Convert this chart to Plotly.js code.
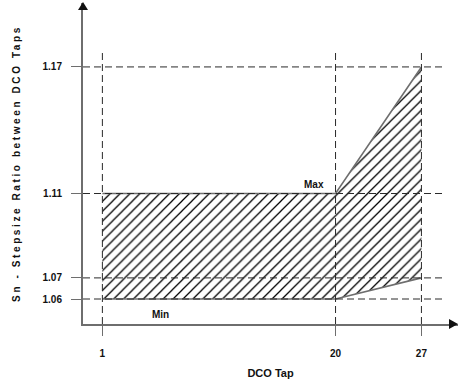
<!DOCTYPE html>
<html>
<head>
<meta charset="utf-8">
<script src="https://cdn.plot.ly/plotly-3.0.1.min.js"></script>
<style>
  html, body { margin: 0; padding: 0; background: #fff; }
  #chart { width: 459px; height: 379px; }
  .ytitle { letter-spacing: 2.6px; }
</style>
</head>
<body>
<div id="chart"></div>
<script>
// ---- data ----
const dcoTap = [1, 20, 27];
const maxRatio = [1.11, 1.11, 1.17];
const minRatio = [1.06, 1.06, 1.07];
const xTicks = [1, 20, 27];
const yTicks = [1.06, 1.07, 1.11, 1.17];
const xTickLabels = ['1', '20', '27'];
const yTickLabels = ['1.06', '1.07', '1.11', '1.17'];

const axisColor = '#6e6e6e';
const gridColor = '#2a2a2a';
const txtColor = '#111';
const fam = '"Liberation Sans", Arial, sans-serif';
const boldFont = (s) => ({ family: fam, size: s, color: txtColor, weight: 'bold' });

const traces = [
  { x: dcoTap, y: minRatio, type: 'scatter', mode: 'lines', name: 'Min',
    line: { color: axisColor, width: 1.6 }, hoverinfo: 'skip', showlegend: false },
  { x: dcoTap, y: maxRatio, type: 'scatter', mode: 'lines', name: 'Max',
    fill: 'tonexty', fillcolor: 'rgba(0,0,0,0)',
    fillpattern: { shape: '/', size: 7, solidity: 0.18, fgcolor: '#000', bgcolor: 'white' },
    line: { color: axisColor, width: 1.6 }, hoverinfo: 'skip', showlegend: false }
];

const shapes = [];
// dashed guide lines at each tick value
xTicks.forEach(v => shapes.push({ type: 'line', xref: 'x', yref: 'paper', x0: v, x1: v, y0: 0, y1: 0.847,
  line: { color: gridColor, width: 1, dash: '7px,4px' }, layer: 'above' }));
yTicks.forEach(v => shapes.push({ type: 'line', xref: 'paper', yref: 'y', x0: 0, x1: 0.968, y0: v, y1: v,
  line: { color: gridColor, width: 1, dash: '7px,4px' }, layer: 'above' }));
// axis arrowheads
shapes.push({ type: 'path', xref: 'paper', yref: 'paper', path: 'M -0.0133 0.978 L 0.0133 0.978 L 0 1.003 Z',
  fillcolor: '#111', line: { width: 0 } });
shapes.push({ type: 'path', xref: 'paper', yref: 'paper', path: 'M 0.976 -0.0156 L 0.976 0.0156 L 1.0 0 Z',
  fillcolor: '#111', line: { width: 0 } });

const layout = {
  width: 459, height: 379,
  margin: { l: 83, r: 1, t: 3, b: 55 },
  paper_bgcolor: '#fff', plot_bgcolor: '#fff',
  font: boldFont(10),
  showlegend: false,
  xaxis: {
    range: [-0.58, 29.98], showgrid: false, zeroline: false,
    showline: true, linecolor: axisColor, linewidth: 2,
    tickmode: 'array', tickvals: xTicks, ticktext: xTickLabels,
    ticks: 'outside', ticklen: 10, tickcolor: axisColor, tickwidth: 1,
    ticklabelstandoff: 9,
    tickfont: boldFont(10),
    title: { text: 'DCO Tap', standoff: 13, font: boldFont(11) }
  },
  yaxis: {
    range: [1.04815, 1.2003], showgrid: false, zeroline: false,
    showline: true, linecolor: axisColor, linewidth: 2,
    tickmode: 'array', tickvals: yTicks, ticktext: yTickLabels,
    ticks: 'outside', ticklen: 10, tickcolor: axisColor, tickwidth: 1,
    ticklabelstandoff: 7,
    tickfont: boldFont(10),
    title: { text: 'Sn - Stepsize Ratio between DCO Taps', standoff: 20, font: boldFont(10) }
  },
  shapes: shapes,
  annotations: [
    { x: dcoTap[1], y: maxRatio[1], xref: 'x', yref: 'y', text: 'Max', showarrow: false,
      xanchor: 'right', yanchor: 'bottom', xshift: -10, yshift: 2, font: boldFont(10) },
    { x: dcoTap[0], y: minRatio[0], xref: 'x', yref: 'y', text: 'Min', showarrow: false,
      xanchor: 'left', yanchor: 'top', xshift: 48, yshift: -8, font: boldFont(10) }
  ]
};

Plotly.newPlot('chart', traces, layout, { displayModeBar: false, staticPlot: true });
</script>
</body>
</html>
